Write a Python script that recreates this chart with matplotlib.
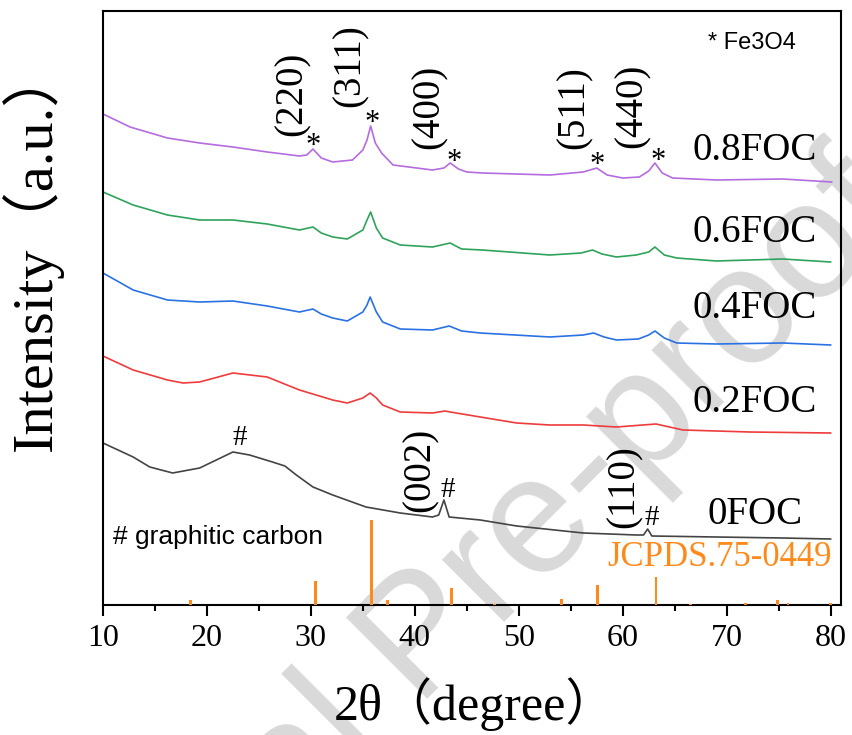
import matplotlib
matplotlib.use("Agg")
from matplotlib import pyplot as plt
import numpy as np

# ---- data (intensity in arbitrary units, offset curves) ----
x_08 = [10, 12.6, 16.2, 19.3, 22.5, 25.8, 28.9, 29.6, 30.2, 31.0, 32.1, 34.0, 35.0, 35.4, 35.75, 36.2, 36.8, 37.9,
        41.7, 42.8, 43.4, 44.2, 45.0, 46.5, 53.0, 56.2, 57.5, 58.5, 60.0, 61.6, 62.5, 63.1, 63.8, 64.8, 69.0, 75.4, 80.1]
y_08 = [491, 478, 467, 462, 458, 453, 449, 450, 456, 447, 443, 445, 455, 465, 479, 462, 452, 440,
        435, 437, 442, 436, 433, 432, 430, 433, 437, 430, 427, 428, 434, 442, 432, 427, 425, 426, 423]

x_06 = [10, 12.9, 16.2, 19.3, 22.5, 25.8, 28.9, 30.2, 31.0, 32.1, 33.5, 35.0, 35.4, 35.75, 36.3, 36.9, 38.6,
        41.7, 43.4, 44.5, 46.5, 53.0, 56.0, 57.1, 58.0, 59.4, 61.3, 62.5, 63.1, 64.0, 65.2, 69.0, 75.4, 80.0]
y_06 = [413, 400, 390, 385, 385, 381, 375, 378, 372, 368, 366, 375, 385, 393, 377, 367, 360,
        358, 362, 356, 355, 350, 352, 355, 351, 348, 350, 353, 358, 350, 347, 344, 346, 343]

x_04 = [10, 12.9, 16.2, 19.3, 22.5, 25.8, 28.9, 30.2, 31.0, 32.1, 33.5, 35.0, 35.4, 35.7, 36.3, 36.9, 38.6,
        41.7, 43.3, 44.5, 46.3, 53.0, 56.2, 57.2, 58.2, 59.4, 61.5, 62.5, 63.1, 64.0, 65.2, 69.0, 75.4, 80.0]
y_04 = [332, 315, 305, 303, 304, 299, 293, 296, 291, 287, 284, 293, 300, 308, 293, 283, 276,
        275, 279, 274, 272, 268, 270, 272, 268, 265, 266, 270, 274, 267, 262, 261, 262, 260]

x_02 = [10, 12.9, 16.2, 17.7, 19.3, 22.5, 25.8, 28.9, 32.1, 33.5, 35.0, 35.7, 36.3, 36.9, 38.6,
        41.7, 42.9, 43.4, 46.3, 49.8, 53.0, 56.2, 59.4, 63.2, 65.8, 72.2, 80.0]
y_02 = [249, 235, 225, 222, 223, 232, 228, 215, 205, 202, 207, 212, 207, 200, 193,
        192, 194, 193, 188, 182, 180, 180, 178, 181, 175, 173, 172]

x_00 = [10, 12.9, 14.5, 16.7, 19.3, 20.9, 22.5, 24.1, 26.3, 27.5, 28.6, 30.2, 32.1, 35.3, 38.6,
        41.7, 42.3, 42.8, 43.3, 46.3, 49.8, 56.2, 61.3, 62.0, 62.4, 62.8, 69.0, 75.4, 80.0]
y_00 = [162, 148, 138, 132, 137, 145, 153, 150, 143, 139, 130, 118, 110, 98, 92,
        88, 90, 105, 88, 85, 79, 72, 70, 70, 76, 69, 68, 67, 66]

# JCPDS 75-0449 reference sticks
stick_pos = [18.4, 30.4, 35.8, 37.4, 43.5, 47.7, 54.1, 57.6, 63.2, 66.5, 71.8, 74.9, 75.9, 80.0]
stick_h = [5, 24, 85, 5, 17, 1.5, 6, 20, 28, 1.5, 2, 5, 2, 2]

samples = ['0.8FOC', '0.6FOC', '0.4FOC', '0.2FOC', '0FOC']
colors = ['#b46ce0', '#2fa35c', '#2a72e4', '#ee3c3c', '#444444']
curves = [(x_08, y_08), (x_06, y_06), (x_04, y_04), (x_02, y_02), (x_00, y_00)]

serif = ['Liberation Serif', 'Noto Sans CJK SC', 'DejaVu Sans']
sans = ['Liberation Sans', 'DejaVu Sans']
orange = '#ff8a1c'

fig = plt.figure(figsize=(8.52, 7.35), dpi=100)
ax = fig.add_axes([103/852, 1-605/735, (841-103)/852, (605-11)/735])
ax.patch.set_alpha(0)

# watermark, behind everything
fig.text(424/852, 1-642/735, 'Journal Pre-proof', fontsize=120, family=sans,
         color='#d9d9d9', rotation=45, rotation_mode='anchor',
         ha='center', va='center', zorder=-5)

for (xs, ys), c in zip(curves, colors):
    ax.plot(xs, ys, color=c, lw=1.2)

ax.bar(stick_pos, stick_h, width=0.28, color=orange, zorder=3)

# sample labels
lab_y = [455, 373, 297, 202, 91]
for s, yy in zip(samples, lab_y):
    ax.text(72.7, yy, s, fontsize=28, family=serif, ha='center', va='center')

ax.text(80.1, 47, 'JCPDS.75-0449', fontsize=25, family=serif, color=orange,
        ha='right', va='center')
ax.text(72.4, 562, '* Fe3O4', fontsize=17, family=sans, ha='center', va='center')
ax.text(11.0, 68, '# graphitic carbon', fontsize=19, family=sans, ha='left', va='center')

# peak indices
hkl = ['(220)', '(311)', '(400)', '(511)', '(440)', '(002)', '(110)']
hkl_xy = [(28.2, 511), (33.8, 539), (41.4, 498), (55.3, 497), (60.9, 499), (40.5, 135), (60.1, 118)]
for t, (xx, yy) in zip(hkl, hkl_xy):
    ax.text(xx, yy, t, fontsize=28, family=serif, rotation=90, ha='center', va='center')

star_xy = [(30.2, 451), (35.9, 474), (43.8, 435), (57.5, 432), (63.4, 436)]
for xx, yy in star_xy:
    ax.text(xx, yy, '*', fontsize=22, family=serif, ha='center', va='baseline')

hash_xy = [(23.2, 160), (43.2, 108), (62.8, 80)]
for xx, yy in hash_xy:
    ax.text(xx, yy, '#', fontsize=21, family=serif, ha='center', va='baseline')

ax.set_xlim(10, 81)
ax.set_ylim(0, 594)
ax.set_xticks(range(10, 81, 10))
ax.set_xticks(range(15, 80, 10), minor=True)
ax.set_yticks([])
ax.tick_params(axis='x', which='major', direction='out', length=8, width=1.5, labelsize=23, pad=6)
ax.tick_params(axis='x', which='minor', direction='out', length=4, width=1.5)
for lab in ax.get_xticklabels():
    lab.set_family(serif)
for sp in ax.spines.values():
    sp.set_linewidth(1.5)

ax.set_xlabel('2θ（degree）', fontsize=36, family=serif)
ax.xaxis.set_label_coords(0.504, -0.122)
ax.set_ylabel('Intensity（a.u.）', fontsize=42, family=serif)
ax.yaxis.set_label_coords(-0.055, 0.60)

fig.savefig('out.png', dpi=100)
